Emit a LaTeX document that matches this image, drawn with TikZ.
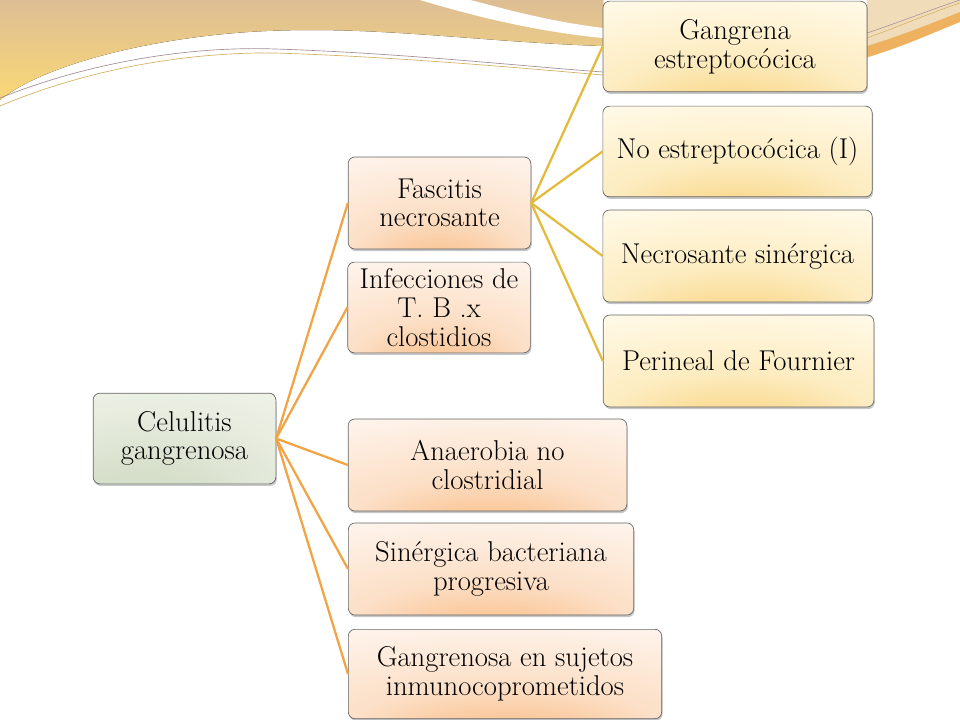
\documentclass[tikz,border=0pt]{standalone}
\usepackage{fontspec}
\usetikzlibrary{shadows}

\definecolor{tanA}{HTML}{DDBE94}
\definecolor{goldA}{HTML}{FAD877}
\definecolor{tanB}{HTML}{F0DCB8}
\definecolor{orangeB}{HTML}{EDB160}
\definecolor{hairA}{HTML}{A48C98}
\definecolor{hairB}{HTML}{D2B060}
\definecolor{peachedge}{HTML}{FEF5EE}
\definecolor{peachmid}{HTML}{FCDFC6}
\definecolor{peachglow}{HTML}{F9C08C}
\definecolor{yellowedge}{HTML}{FFFAEA}
\definecolor{yellowmid}{HTML}{FDECC0}
\definecolor{yellowglow}{HTML}{F8D585}
\definecolor{greenedge}{HTML}{F7F9F3}
\definecolor{greenmid}{HTML}{E8EDE0}
\definecolor{greenglow}{HTML}{D6DFCA}
\definecolor{rootline}{HTML}{F2A445}
\definecolor{subline}{HTML}{E3BA3C}

\pgfdeclareradialshading{peachshade}{\pgfpoint{0bp}{-40bp}}{color(0bp)=(peachglow); color(6bp)=(peachglow); color(24bp)=(peachmid); color(52bp)=(peachedge); color(100bp)=(peachedge)}
\pgfdeclareradialshading{yellowshade}{\pgfpoint{0bp}{-40bp}}{color(0bp)=(yellowglow); color(6bp)=(yellowglow); color(24bp)=(yellowmid); color(52bp)=(yellowedge); color(100bp)=(yellowedge)}
\pgfdeclareradialshading{greenshade}{\pgfpoint{-15bp}{-40bp}}{color(0bp)=(greenglow); color(15bp)=(greenglow); color(40bp)=(greenmid); color(75bp)=(greenedge); color(100bp)=(greenedge)}

\begin{document}
\begin{tikzpicture}[x=0.75pt, y=-0.75pt,
  every node/.style={font=\fontsize{21.5}{21.5}\selectfont, align=center, inner sep=1pt},
  box/.style={draw=black!60, line width=0.5pt, rounded corners=5pt, shade,
    drop shadow={shadow xshift=0.7pt, shadow yshift=-1.6pt, opacity=0.45}},
  rootbox/.style={box, shading=greenshade},
  subbox/.style={box, shading=peachshade},
  leafbox/.style={box, shading=yellowshade},
  rootedge/.style={draw=rootline, line width=1.7pt},
  subedge/.style={draw=subline, line width=1.7pt}]
\useasboundingbox (0,0) rectangle (960,720);

\fill[top color=tanA, bottom color=goldA] (0,0) -- (603,0) -- (603,46) .. controls (480,42) and (380,26) .. (267,31) .. controls (170,35) and (50,60) .. (0,100) -- cycle;
\fill[white] (420,0) .. controls (480,18) and (540,32) .. (603,38) -- (603,28) .. controls (540,20) and (495,6) .. (470,0) -- cycle;
\draw[hairA, line width=0.5pt] (0,98) .. controls (90,62) and (190,46) .. (275,49) .. controls (400,53) and (520,66) .. (603,72);
\draw[hairB, line width=0.5pt] (0,106) .. controls (90,68) and (190,52) .. (275,53) .. controls (400,57) and (520,68) .. (603,75);
\fill[tanB] (867,0) -- (960,0) -- (960,20) .. controls (930,32) and (900,46) .. (867,58) -- cycle;
\fill[orangeB] (867,46) .. controls (900,36) and (930,24) .. (960,12) -- (960,22) .. controls (930,34) and (900,48) .. (867,57) -- cycle;
\draw[hairA, line width=0.4pt] (867,33) .. controls (900,22) and (930,10) .. (960,0);
\draw[hairB, line width=0.4pt] (867,38) .. controls (900,26) and (930,13) .. (960,3);

\node[rootbox, minimum width=137pt, minimum height=68pt] (n01) at (184.5, 438.5) {Celulitis\\gangrenosa};

\node[subbox, minimum width=137pt, minimum height=69pt] (n11) at (439.5, 203) {Fascitis\\necrosante};
\node[subbox, minimum width=137pt, minimum height=68pt] (n12) at (439, 307.5) {Infecciones de\\T. B .x\\clostidios};
\node[subbox, minimum width=209pt, minimum height=69pt] (n13) at (487.5, 465) {Anaerobia no\\clostridial};
\node[subbox, minimum width=214pt, minimum height=69pt] (n14) at (491, 569) {Sinérgica bacteriana\\progresiva};
\node[subbox, minimum width=235pt, minimum height=67pt] (n15) at (505, 674) {Gangrenosa en sujetos\\inmunocoprometidos};

\node[leafbox, minimum width=198pt, minimum height=68pt] (n21) at (735, 46.5) {Gangrena\\estreptocócica};
\node[leafbox, minimum width=202pt, minimum height=68pt] (n22) at (737.5, 151.5) {No estreptocócica (I)};
\node[leafbox, minimum width=202pt, minimum height=69pt] (n23) at (737.5, 256) {Necrosante sinérgica};
\node[leafbox, minimum width=203pt, minimum height=69pt] (n24) at (738.5, 361) {Perineal de Fournier};

\draw[rootedge] (n01.east) -- (n11.west);
\draw[rootedge] (n01.east) -- (n12.west);
\draw[rootedge] (n01.east) -- (n13.west);
\draw[rootedge] (n01.east) -- (n14.west);
\draw[rootedge] (n01.east) -- (n15.west);

\draw[subedge] (n11.east) -- (n21.west);
\draw[subedge] (n11.east) -- (n22.west);
\draw[subedge] (n11.east) -- (n23.west);
\draw[subedge] (n11.east) -- (n24.west);
\end{tikzpicture}
\end{document}
